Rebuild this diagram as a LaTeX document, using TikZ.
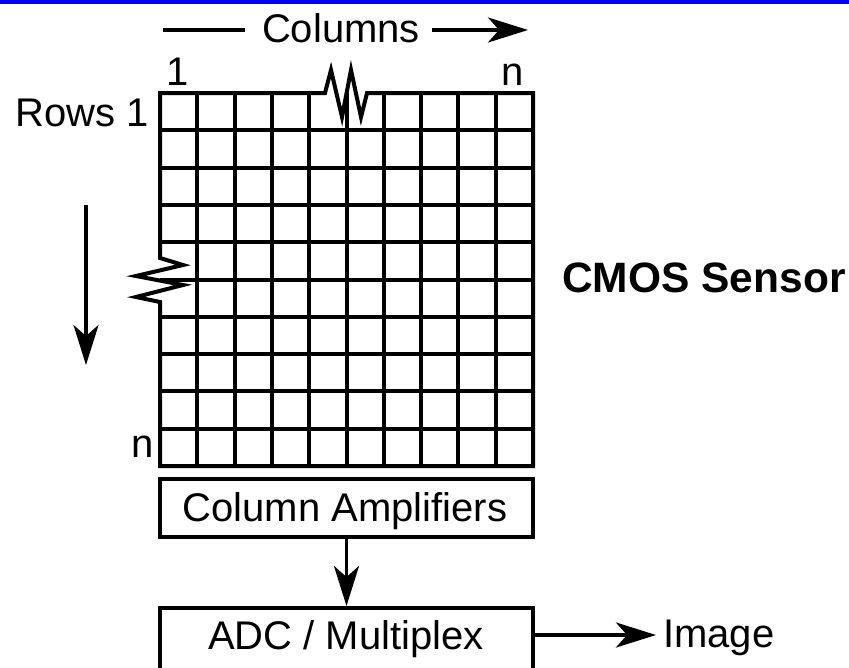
\documentclass[tikz,border=0pt]{standalone}
\usepackage{fontspec}
\setmainfont{Liberation Sans}
\usetikzlibrary{arrows.meta}

\begin{document}
\begin{tikzpicture}[x=1pt, y=-1pt,
  txt/.style={inner sep=0pt, anchor=base, font=\fontsize{40}{48}\selectfont},
  boxframe/.style={draw, line width=4pt, minimum width=373pt, inner sep=0pt},
  gridline/.style={line width=4pt},
  flow/.style={line width=3.5pt, -{Stealth[length=40pt, width=25pt, inset=11pt]}},
  plainline/.style={line width=3.5pt}
]
\useasboundingbox (0,0) rectangle (849,667);
\clip (0,0) rectangle (849,667);

% title bar
\fill[blue] (0,0) rectangle (849,4);

% pixel array: inner lines
\foreach \i in {1,...,9} {
  \draw[gridline] ({160+37.3*\i},93) -- ({160+37.3*\i},466);
  \draw[gridline] (160,{93+37.3*\i}) -- (533,{93+37.3*\i});
}
% pixel array: outline with break marks
\draw[gridline, line join=miter]
  (160,258) -- (160,93) -- (325,93)
  -- (331,70) -- (342,117) -- (351,70) -- (361,117) -- (367,93)
  -- (533,93) -- (533,466) -- (160,466) -- (160,302)
  -- (136,297) -- (183,285) -- (136,276) -- (183,265) -- cycle;

% axis labels
\node[txt] (colone) at (178,85) {1};
\node[txt] (coln) at (513,85) {n};
\node[txt, anchor=base east] (rowone) at (149,126) {Rows 1};
\node[txt] (rown) at (143,457) {n};
\node[txt] (cols) at (341,42) {Columns};

% column direction
\coordinate (cl0) at (163,30);
\coordinate (cl1) at (245,30);
\coordinate (cr0) at (432,30);
\coordinate (cr1) at (528,30);
\draw[plainline] (cl0) -- (cl1);
\draw[flow] (cr0) -- (cr1);

% row direction
\coordinate (r0) at (86,205);
\coordinate (r1) at (86,365);
\draw[flow] (r0) -- (r1);

% sensor title
\node[txt, anchor=base west, font=\fontsize{42.5}{50}\selectfont\bfseries] (cmos) at (562,292) {CMOS Sensor};

% readout chain
\node[boxframe, minimum height=58pt] (amp) at (346.5,508) {};
\node[txt] (amptext) at (345,521) {Column Amplifiers};
\node[boxframe, minimum height=70pt] (adc) at (346.5,643) {};
\node[txt] (adctext) at (346,649) {ADC / Multiplex};
\draw[flow] (amp.south) -- (adc.north);

\node[txt, anchor=base west] (img) at (663,647) {Image};
\coordinate (imgtip) at (656,635);
\draw[flow] (adc.east |- imgtip) -- (imgtip);
\end{tikzpicture}
\end{document}
